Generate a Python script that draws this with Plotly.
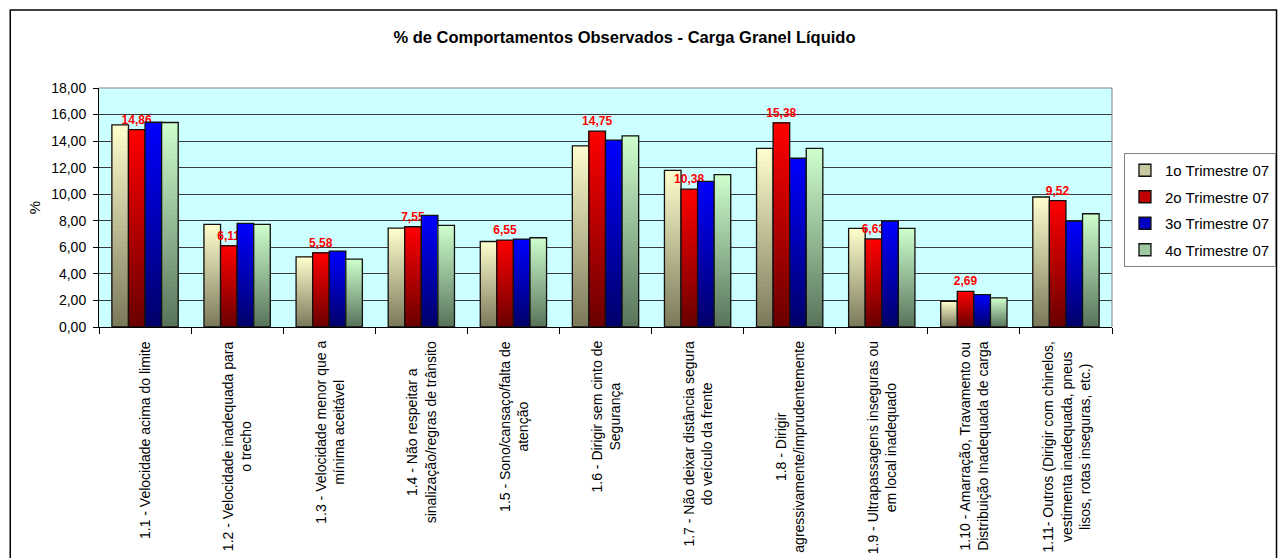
import plotly.graph_objects as go

categories = [
    "1.1 - Velocidade acima do limite",
    "1.2 - Velocidade inadequada para<br>o trecho",
    "1.3 - Velocidade menor que a<br>mínima aceitável",
    "1.4 - Não respeitar a<br>sinalização/regras de trânsito",
    "1.5 - Sono/cansaço/falta de<br>atenção",
    "1.6 - Dirigir sem cinto de<br>Segurança",
    "1.7 - Não deixar distância segura<br>do veículo da frente",
    "1.8 - Dirigir<br>agressivamente/imprudentemente",
    "1.9 - Ultrapassagens inseguras ou<br>em local inadequado",
    "1.10 - Amarração, Travamento ou<br>Distribuição Inadequada de carga",
    "1.11- Outros (Dirigir com chinelos,<br>vestimenta inadequada, pneus<br>lisos, rotas inseguras, etc.)",
]
cat_ids = [f"c{i}" for i in range(len(categories))]

series_names = ["1o Trimestre 07", "2o Trimestre 07", "3o Trimestre 07", "4o Trimestre 07"]
q1 = [15.22, 7.73, 5.28, 7.45, 6.44, 13.64, 11.80, 13.46, 7.43, 1.94, 9.79]
q2 = [14.86, 6.11, 5.58, 7.55, 6.55, 14.75, 10.38, 15.38, 6.63, 2.69, 9.52]
q3 = [15.42, 7.80, 5.71, 8.41, 6.62, 14.07, 10.97, 12.71, 7.98, 2.44, 7.98]
q4 = [15.40, 7.73, 5.11, 7.65, 6.72, 14.39, 11.47, 13.46, 7.43, 2.19, 8.53]
series_values = [q1, q2, q3, q4]
y_ticks = [0, 2, 4, 6, 8, 10, 12, 14, 16, 18]

top_colors = [(255, 255, 206), (255, 0, 0), (0, 0, 255), (206, 255, 206)]
bottom_colors = [(122, 120, 90), (105, 0, 0), (0, 0, 105), (88, 115, 90)]
mid_colors = ["#c8c8a0", "#c00000", "#0000c0", "#a0c8a0"]

N = 40
W, H = 1288, 558
ml, mr, mt, mb = 99, 173, 88, 231
pw, ph = W - ml - mr, H - mt - mb


def lerp(c0, c1, t):
    return "rgb(%d,%d,%d)" % tuple(round(a + (b - a) * t) for a, b in zip(c0, c1))


fig = go.Figure()
for s, vals in enumerate(series_values):
    xs, bases, hs, cols = [], [], [], []
    for i in range(N):
        t = (i + 0.5) / N
        col = lerp(bottom_colors[s], top_colors[s], t)
        for c, v in zip(cat_ids, vals):
            xs.append(c)
            bases.append(v * i / N)
            hs.append(v * (N - i) / N)
            cols.append(col)
    fig.add_trace(go.Bar(
        x=xs, y=hs, base=bases, offsetgroup=str(s), legendgroup=str(s),
        marker=dict(color=cols, line=dict(width=0)), showlegend=False,
        hoverinfo="skip",
    ))
    outline = dict(
        x=cat_ids, y=vals, offsetgroup=str(s), legendgroup=str(s),
        marker=dict(color="rgba(0,0,0,0)", line=dict(color="#111111", width=1.3)),
        showlegend=False,
    )
    if s == 1:
        outline.update(
            texttemplate="%{y:.2f}", textposition="outside", constraintext="none",
            cliponaxis=False,
            textfont=dict(color="#ff0000", size=12, weight="bold",
                          family="Liberation Sans, Arial"),
        )
    fig.add_trace(go.Bar(**outline))
    fig.add_trace(go.Bar(
        x=[cat_ids[0]], y=[None], offsetgroup=str(s), legendgroup=str(s),
        name=series_names[s],
        marker=dict(color=mid_colors[s], line=dict(color="#111111", width=1.3)),
        showlegend=True,
    ))

annotations = []
for c, lab in zip(cat_ids, categories):
    annotations.append(dict(
        x=c, xref="x", y=-(339 - (mt + ph)) / ph, yref="paper",
        text=lab, textangle=-90, showarrow=False, align="center",
        xanchor="center", yanchor="top",
        font=dict(size=14, color="#000000", family="Liberation Sans, Arial"),
    ))


def px_x(p):
    return (p - ml) / pw


def px_y(p):
    return (mt + ph - p) / ph


shapes = [
    dict(type="path", xref="paper", yref="paper", path="M0,1 L1,1 L1,0",
         line=dict(color="#808080", width=1)),
    dict(type="rect", xref="paper", yref="paper",
         x0=px_x(10), x1=px_x(1280), y0=px_y(10), y1=px_y(600),
         line=dict(color="#000000", width=1.5)),
]

fig.update_layout(
    width=W, height=H,
    margin=dict(l=ml, r=mr, t=mt, b=mb),
    paper_bgcolor="white", plot_bgcolor="#ccffff",
    separators=",.",
    barmode="group", bargap=0.28, bargroupgap=0,
    font=dict(family="Liberation Sans, Arial", color="#000000"),
    title=dict(
        text="<b>% de Comportamentos Observados - Carga Granel Líquido</b>",
        x=px_x(626), xref="paper", xanchor="center",
        y=1 - 37 / H, yref="container", yanchor="middle",
        font=dict(size=16.5, color="#000000"),
    ),
    xaxis=dict(
        showticklabels=False, tickson="boundaries", ticks="outside", ticklen=6,
        tickcolor="#000000", showline=True, linecolor="#000000", linewidth=1,
        showgrid=False, categoryorder="array", categoryarray=cat_ids,
    ),
    yaxis=dict(
        range=[0, 18], tickvals=y_ticks, tickformat=".2f",
        ticks="outside", ticklen=5, tickcolor="#000000",
        showline=True, linecolor="#000000", linewidth=1,
        showgrid=True, gridcolor="#3a3a3a", gridwidth=1, zeroline=False,
        tickfont=dict(size=14), ticklabelstandoff=4,
        title=dict(text="%", font=dict(size=15), standoff=6),
    ),
    legend=dict(
        x=px_x(1127), y=px_y(153), xanchor="left", yanchor="top",
        bordercolor="#808080", borderwidth=1, bgcolor="white",
        font=dict(size=15), traceorder="grouped", tracegroupgap=4,
        itemclick=False, itemdoubleclick=False,
    ),
    annotations=annotations,
    shapes=shapes,
)

fig.write_html(
    "out.html",
    config={"displayModeBar": False},
    post_script="document.body.style.margin='0px';document.body.style.overflow='hidden';",
)
